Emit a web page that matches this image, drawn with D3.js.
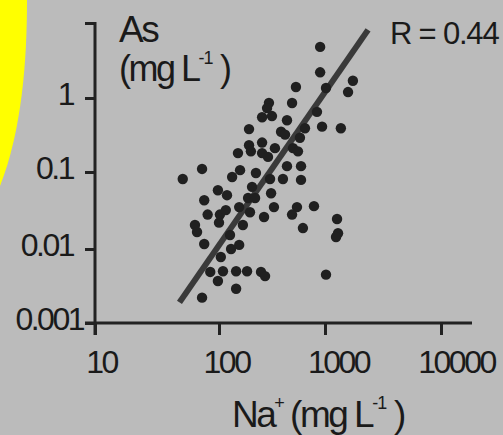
<!DOCTYPE html>
<html>
<head>
<meta charset="utf-8">
<script src="https://cdn.jsdelivr.net/npm/d3@7"></script>
<style>
  body { margin: 0; background: #bbbbbb; }
  svg { display: block; font-family: "Liberation Sans", Arial, sans-serif; }
</style>
</head>
<body>
<svg id="chart" width="503" height="435"></svg>
<script>
// Na+ (mg/L) vs As (mg/L)
var naValues = [900, 900, 1740, 1580, 532, 1020, 489, 296, 284, 255,
                316, 438, 840, 192, 385, 420, 938, 1370, 647, 580,
                255, 192, 200, 151, 255, 337, 290, 499, 556, 438,
                594, 73, 51, 133, 158, 223, 303, 401, 594, 205,
                98, 119, 310, 188, 219, 76, 81, 102, 116, 155,
                196, 330, 544, 489, 787, 1270, 266, 100, 64, 66.5,
                168, 619, 1295, 1245, 76, 127, 130, 155, 104, 85,
                109, 145, 184, 249, 272, 1020, 98, 145, 73];
var asValues = [4.8, 2.2, 1.7, 1.2, 1.4, 1.36, 0.855, 0.86, 0.73, 0.55,
                0.57, 0.50, 0.65, 0.38, 0.35, 0.32, 0.41, 0.39, 0.39, 0.29,
                0.25, 0.23, 0.19, 0.18, 0.18, 0.21, 0.16, 0.21, 0.19, 0.12,
                0.12, 0.11, 0.081, 0.086, 0.106, 0.097, 0.081, 0.081, 0.079, 0.064,
                0.058, 0.050, 0.053, 0.046, 0.046, 0.043, 0.028, 0.028, 0.032, 0.035,
                0.030, 0.035, 0.035, 0.028, 0.036, 0.0245, 0.026, 0.022, 0.0205, 0.0166,
                0.0205, 0.0187, 0.016, 0.0143, 0.0116, 0.0152, 0.010, 0.0113, 0.0078, 0.0049,
                0.0050, 0.0050, 0.0050, 0.0049, 0.0043, 0.0045, 0.0037, 0.0029, 0.0022];

// regression line end points
var fitNa = [48, 2350];
var fitAs = [0.0019, 8.1];

var xTicks = [10, 100, 1000, 10000];
var xTickLabels = ["10", "100", "1000", "10000"];
var yTicks = [0.001, 0.01, 0.1, 1, 10];
var yTickLabels = ["0.001", "0.01", "0.1", "1", ""];
var rLabel = "R = 0.44";

var points = naValues.map(function(v, i) { return { na: v, as: asValues[i] }; });

var svg = d3.select('#chart');

// yellow blob on the left edge
svg.append('path')
  .attr('d', 'M0,0 L27,0 C27,60 22,130 0,186 Z')
  .attr('fill', '#ffff00');

// the printed decades are not evenly spaced, so use piecewise log scales
var x = d3.scaleLog().domain(xTicks).range([95, 219, 325, 441]);
var y = d3.scaleLog().domain(yTicks).range([323, 249, 172, 98, 23]);

var axisColor = '#222';
var textColor = '#1a1a1a';

// y axis
var yAxis = svg.append('g')
  .attr('transform', 'translate(' + x(10) + ',0)')
  .call(d3.axisLeft(y).tickValues(yTicks).tickSize(10).tickSizeOuter(0)
        .tickFormat(function(d, i) { return yTickLabels[i]; }));
yAxis.select('.domain').remove();
yAxis.selectAll('.tick line').attr('stroke', axisColor).attr('stroke-width', 3);
yAxis.selectAll('.tick text')
  .attr('fill', textColor)
  .attr('font-size', 32)
  .attr('letter-spacing', '-2.5px')
  .attr('x', function(d) { return d === 0.001 ? -12 : -22; })
  .attr('y', -5)
  .attr('dy', '0.35em');
svg.append('line')
  .attr('x1', x(10)).attr('x2', x(10))
  .attr('y1', y(10) - 1).attr('y2', y(0.001) + 12)
  .attr('stroke', axisColor).attr('stroke-width', 3);

// x axis
var xAxis = svg.append('g')
  .attr('transform', 'translate(0,' + y(0.001) + ')')
  .call(d3.axisBottom(x).tickValues(xTicks).tickSize(12).tickSizeOuter(0)
        .tickFormat(function(d, i) { return xTickLabels[i]; }));
xAxis.select('.domain').remove();
xAxis.selectAll('.tick line').attr('stroke', axisColor).attr('stroke-width', 3);
var xNudge = [6, 7, 13, 15];
xAxis.selectAll('.tick text')
  .attr('fill', textColor)
  .attr('font-size', 32)
  .attr('letter-spacing', '-2.5px')
  .attr('x', function(d, i) { return xNudge[i]; })
  .attr('y', 50)
  .attr('dy', 0);
svg.append('line')
  .attr('x1', x(10) - 10).attr('x2', x(10000) + 31)
  .attr('y1', y(0.001)).attr('y2', y(0.001))
  .attr('stroke', axisColor).attr('stroke-width', 3);

// regression line
svg.append('line')
  .attr('x1', x(fitNa[0])).attr('y1', y(fitAs[0]))
  .attr('x2', x(fitNa[1])).attr('y2', y(fitAs[1]))
  .attr('stroke', '#3a3a3a')
  .attr('stroke-width', 6);

// dots
svg.append('g').selectAll('circle')
  .data(points)
  .enter()
  .append('circle')
  .attr('cx', function(d) { return x(d.na); })
  .attr('cy', function(d) { return y(d.as); })
  .attr('r', 5.2)
  .attr('fill', '#202020');

// y title
var yTitle = svg.append('g').attr('fill', textColor);
yTitle.append('text')
  .attr('x', 119).attr('y', 42)
  .attr('font-size', 37).attr('letter-spacing', '-2.5px')
  .text('As');
var yt2 = yTitle.append('text')
  .attr('x', 119).attr('y', 81)
  .attr('font-size', 36).attr('letter-spacing', '-2.5px');
yt2.append('tspan').text('(mg L');
yt2.append('tspan').attr('font-size', 18).attr('letter-spacing', '-1px').attr('dy', -17).text('-1');
yt2.append('tspan').attr('dy', 17).text(' )');

// R value
svg.append('text')
  .attr('x', 390).attr('y', 44)
  .attr('font-size', 31).attr('letter-spacing', '-1.2px')
  .attr('fill', textColor)
  .text(rLabel);

// x title
var xt = svg.append('text')
  .attr('x', 232).attr('y', 427)
  .attr('font-size', 37).attr('letter-spacing', '-2.5px')
  .attr('fill', textColor);
xt.append('tspan').text('Na');
xt.append('tspan').attr('font-size', 18).attr('dy', -18).text('+');
xt.append('tspan').attr('dy', 18).text(' (mg L');
xt.append('tspan').attr('font-size', 18).attr('letter-spacing', '-1px').attr('dy', -18).text('-1');
xt.append('tspan').attr('dy', 18).text(' )');
</script>
</body>
</html>
